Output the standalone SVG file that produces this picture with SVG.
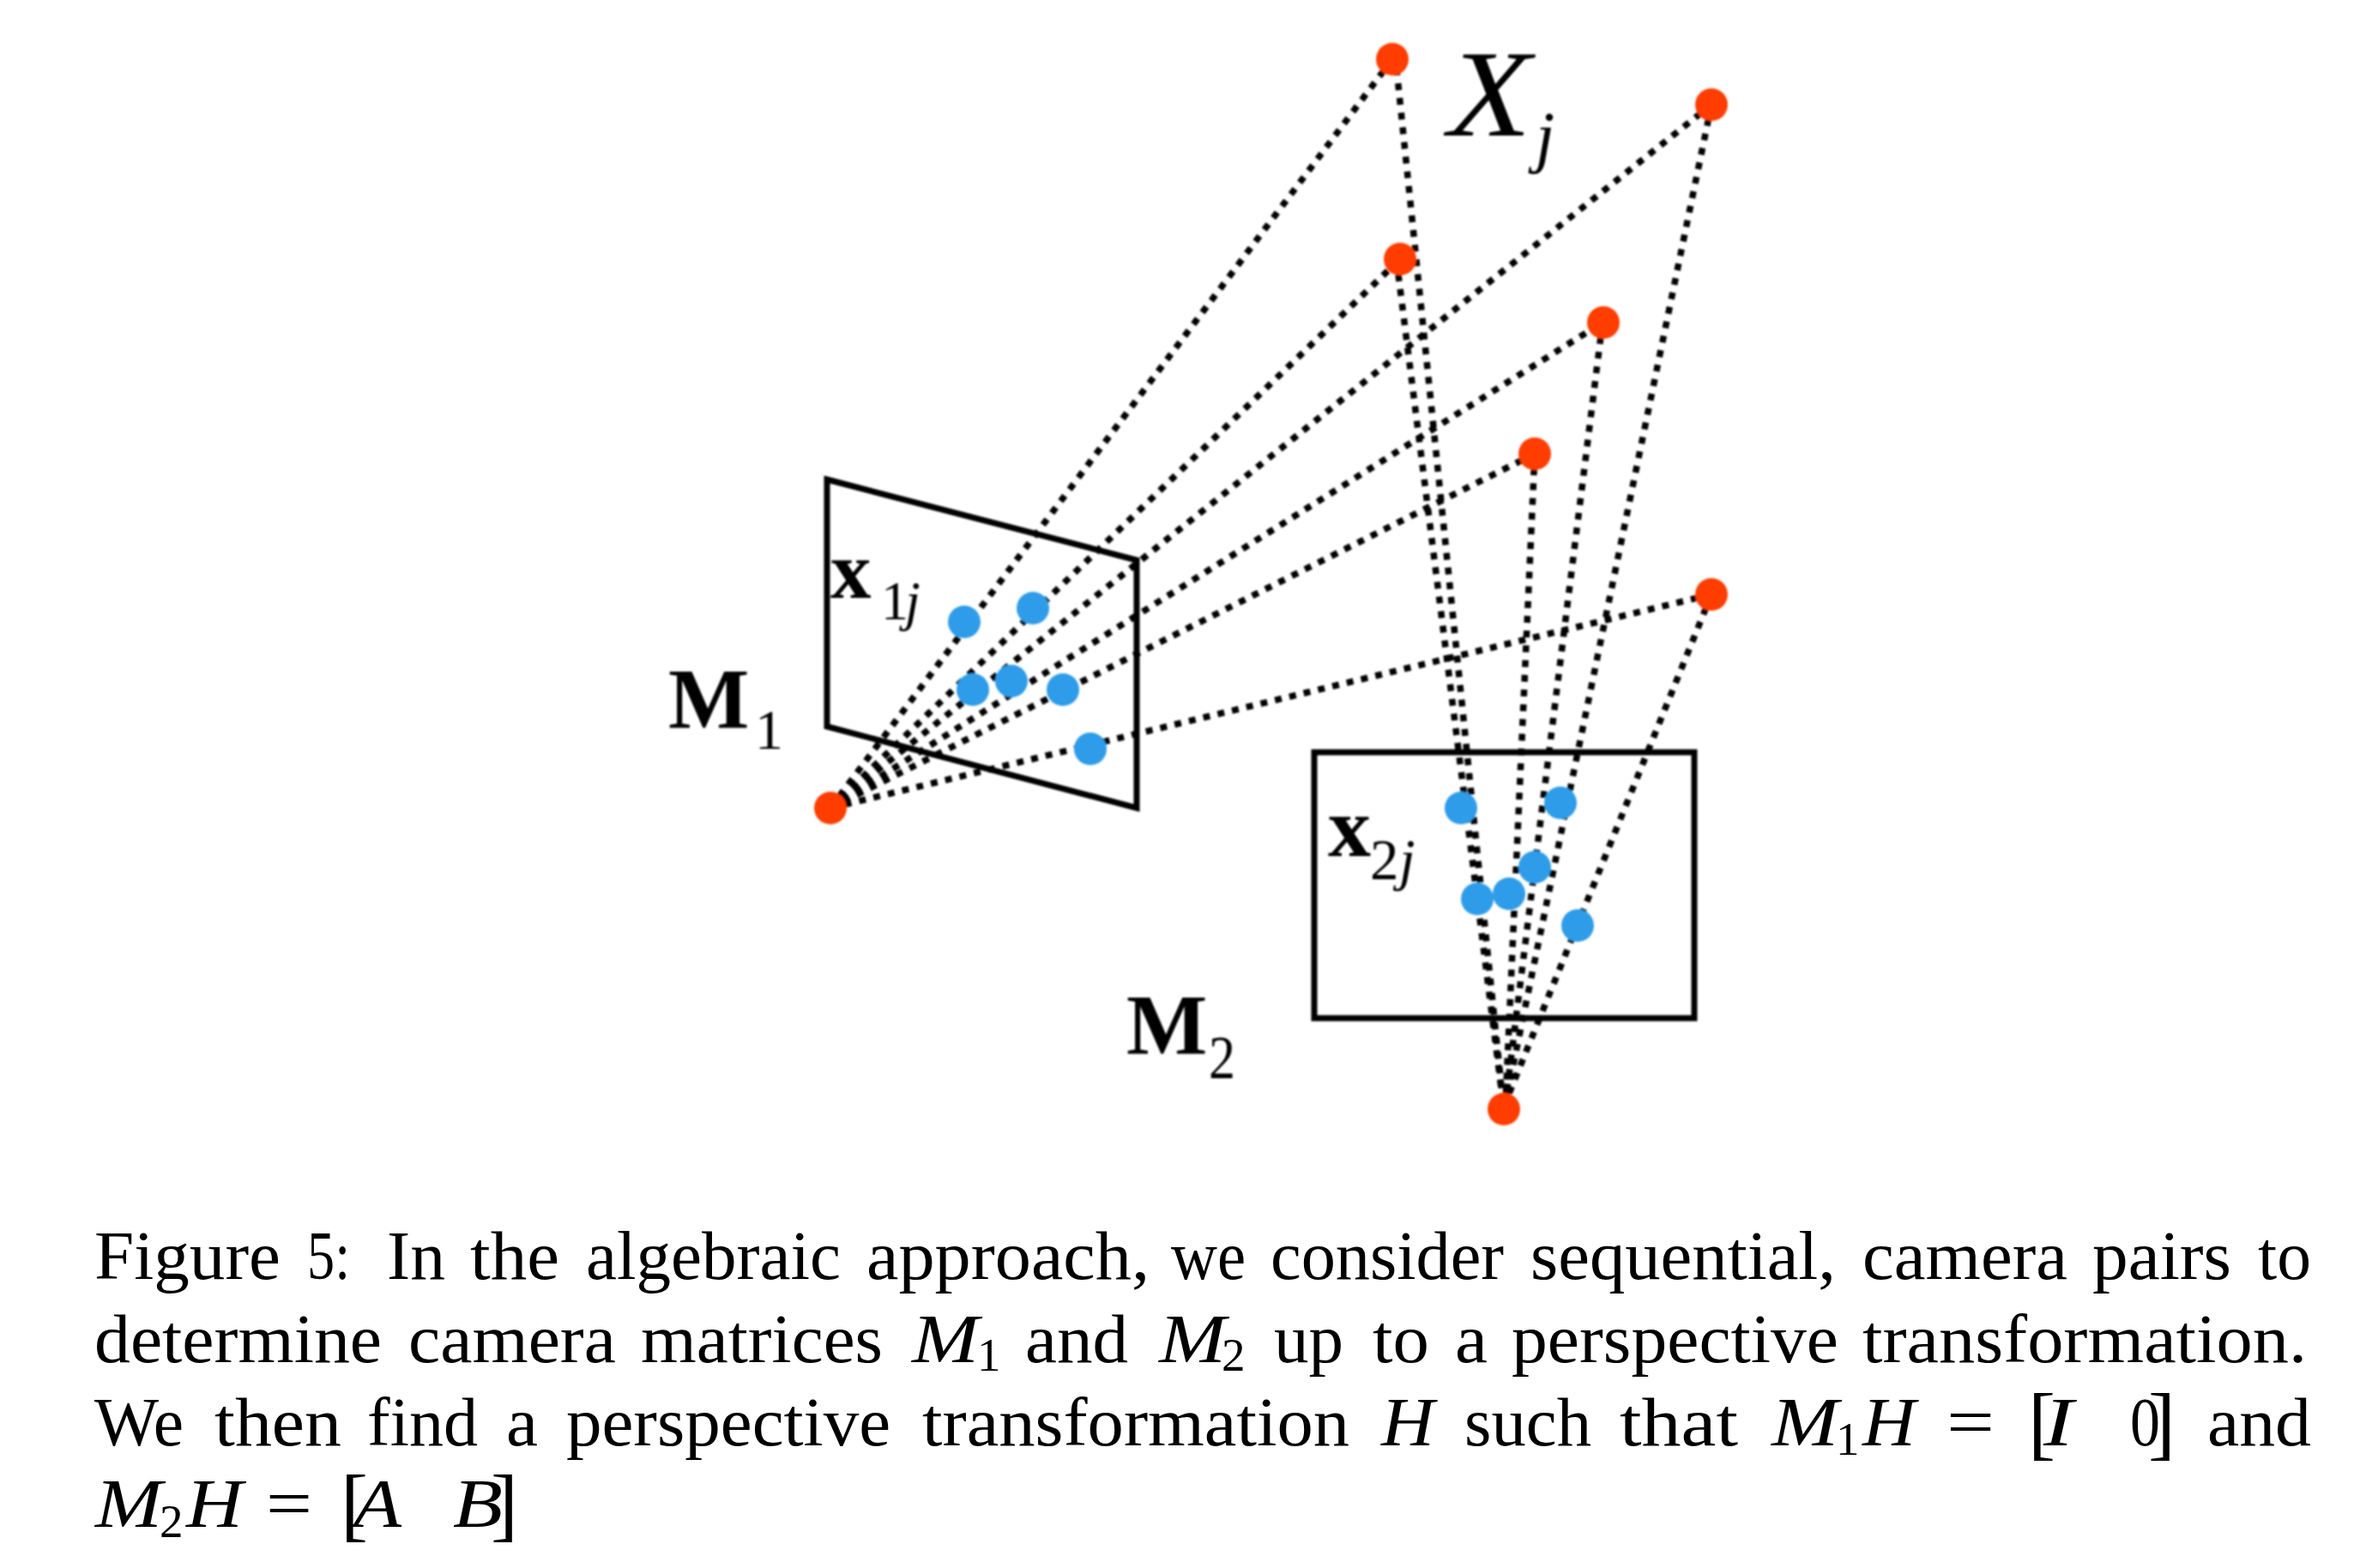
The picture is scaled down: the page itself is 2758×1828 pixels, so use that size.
<svg xmlns="http://www.w3.org/2000/svg" width="2758" height="1828" viewBox="0 0 2758 1828">
<style>
text{font-family:"Liberation Serif","Times New Roman",serif;fill:#000}
.cap{font-size:80px}
.i{font-style:italic}
.b{font-weight:bold}
.sub{font-size:55px}
.ray{stroke:#000;stroke-width:7.5;stroke-dasharray:8 9.2;fill:none}
.plane{fill:none;stroke:#000;stroke-width:7;stroke-linejoin:miter}
.pt{fill:#FF3D00}
.im{fill:#2D9CE8}
</style>
<defs>
<filter id="soft" filterUnits="userSpaceOnUse" x="0" y="0" width="2758" height="1400"><feGaussianBlur stdDeviation="1"/></filter>
</defs>
<rect width="2758" height="1828" fill="#fff"/>
<g filter="url(#soft)">
<g id="camera-plane-1"><polygon class="plane" points="964,559 1325,653 1325,942 964,847"/></g>
<g id="camera-plane-2"><rect class="plane" x="1532" y="877" width="443" height="310"/></g>
<g id="connectors">
<line class="ray" x1="968" y1="942" x2="1623" y2="69"/>
<line class="ray" x1="968" y1="942" x2="1632" y2="302"/>
<line class="ray" x1="968" y1="942" x2="1995" y2="122"/>
<line class="ray" x1="968" y1="942" x2="1868" y2="376"/>
<line class="ray" x1="968" y1="942" x2="1789" y2="529"/>
<line class="ray" x1="968" y1="942" x2="1995" y2="693"/>
<line class="ray" x1="1628" y1="80" x2="1752" y2="1285"/>
<line class="ray" x1="1630" y1="320" x2="1752" y2="1285"/>
<line class="ray" x1="1995" y1="122" x2="1755" y2="1285"/>
<line class="ray" x1="1868" y1="376" x2="1755" y2="1285"/>
<line class="ray" x1="1789" y1="529" x2="1755" y2="1285"/>
<line class="ray" x1="1995" y1="693" x2="1755" y2="1285"/>
</g>
<g id="world-point-1"><circle class="pt" cx="1623" cy="69" r="19"/></g>
<g id="world-point-2"><circle class="pt" cx="1995" cy="122" r="19"/></g>
<g id="world-point-3"><circle class="pt" cx="1632" cy="302" r="19"/></g>
<g id="world-point-4"><circle class="pt" cx="1869" cy="376" r="19"/></g>
<g id="world-point-5"><circle class="pt" cx="1789" cy="529" r="19"/></g>
<g id="world-point-6"><circle class="pt" cx="1995" cy="693" r="19"/></g>
<g id="camera-center-1"><circle class="pt" cx="968" cy="942" r="19"/></g>
<g id="camera-center-2"><circle class="pt" cx="1753" cy="1293" r="19"/></g>
<g id="image1-point-1"><circle class="im" cx="1124" cy="725" r="19"/></g>
<g id="image1-point-2"><circle class="im" cx="1204" cy="709" r="19"/></g>
<g id="image1-point-3"><circle class="im" cx="1134" cy="804" r="19"/></g>
<g id="image1-point-4"><circle class="im" cx="1179" cy="794" r="19"/></g>
<g id="image1-point-5"><circle class="im" cx="1239" cy="804" r="19"/></g>
<g id="image1-point-6"><circle class="im" cx="1271" cy="873" r="19"/></g>
<g id="image2-point-1"><circle class="im" cx="1703" cy="942" r="19"/></g>
<g id="image2-point-2"><circle class="im" cx="1819" cy="936" r="19"/></g>
<g id="image2-point-3"><circle class="im" cx="1789" cy="1011" r="19"/></g>
<g id="image2-point-4"><circle class="im" cx="1759" cy="1042" r="19"/></g>
<g id="image2-point-5"><circle class="im" cx="1722" cy="1048" r="19"/></g>
<g id="image2-point-6"><circle class="im" cx="1839" cy="1079" r="19"/></g>
<g id="label-Xj"><text class="i" x="1688" y="158" font-size="144" textLength="97" lengthAdjust="spacingAndGlyphs">X</text><text class="i" x="1790" y="186" font-size="80">j</text></g>
<g id="label-x1j"><text x="968" y="697"><tspan class="b" font-size="95">x</tspan><tspan x="1027" y="722" font-size="64">1</tspan><tspan class="i" font-size="64" x="1055" y="722">j</tspan></text></g>
<g id="label-x2j"><text x="1548" y="998"><tspan class="b" font-size="100">x</tspan><tspan x="1597" y="1025" font-size="67">2</tspan><tspan class="i" font-size="67" x="1631" y="1025">j</tspan></text></g>
<g id="label-M1"><text x="779" y="848"><tspan class="b" font-size="100">M</tspan><tspan x="880" y="873" font-size="66">1</tspan></text></g>
<g id="label-M2"><text x="1313" y="1228"><tspan class="b" font-size="100">M</tspan><tspan x="1409" y="1257" font-size="72" textLength="31" lengthAdjust="spacingAndGlyphs">2</tspan></text></g>
</g>
<g id="caption" class="cap">
<text class="cap" y="1491"><tspan x="110" textLength="217" lengthAdjust="spacingAndGlyphs">Figure</tspan> <tspan x="358" textLength="50" lengthAdjust="spacingAndGlyphs">5:</tspan> <tspan x="451" textLength="68" lengthAdjust="spacingAndGlyphs">In</tspan> <tspan x="548" textLength="104" lengthAdjust="spacingAndGlyphs">the</tspan> <tspan x="683" textLength="297" lengthAdjust="spacingAndGlyphs">algebraic</tspan> <tspan x="1010" textLength="330" lengthAdjust="spacingAndGlyphs">approach,</tspan> <tspan x="1365" textLength="87" lengthAdjust="spacingAndGlyphs">we</tspan> <tspan x="1481" textLength="272" lengthAdjust="spacingAndGlyphs">consider</tspan> <tspan x="1784" textLength="356" lengthAdjust="spacingAndGlyphs">sequential,</tspan> <tspan x="2171" textLength="239" lengthAdjust="spacingAndGlyphs">camera</tspan> <tspan x="2439" textLength="162" lengthAdjust="spacingAndGlyphs">pairs</tspan> <tspan x="2632" textLength="62" lengthAdjust="spacingAndGlyphs">to</tspan></text>
<text class="cap" y="1588"><tspan x="110" textLength="335" lengthAdjust="spacingAndGlyphs">determine</tspan> <tspan x="476" textLength="242" lengthAdjust="spacingAndGlyphs">camera</tspan> <tspan x="747" textLength="282" lengthAdjust="spacingAndGlyphs">matrices</tspan> <tspan class="i" x="1063" textLength="78" lengthAdjust="spacingAndGlyphs">M</tspan><tspan class="sub" x="1139" y="1598">1</tspan> <tspan x="1195" y="1588" textLength="120" lengthAdjust="spacingAndGlyphs">and</tspan> <tspan class="i" x="1351" textLength="78" lengthAdjust="spacingAndGlyphs">M</tspan><tspan class="sub" x="1424" y="1598">2</tspan> <tspan x="1485" y="1588" textLength="81" lengthAdjust="spacingAndGlyphs">up</tspan> <tspan x="1600" textLength="66" lengthAdjust="spacingAndGlyphs">to</tspan> <tspan x="1696" textLength="38" lengthAdjust="spacingAndGlyphs">a</tspan> <tspan x="1762" textLength="381" lengthAdjust="spacingAndGlyphs">perspective</tspan> <tspan x="2171" textLength="518" lengthAdjust="spacingAndGlyphs">transformation.</tspan></text>
<text class="cap" y="1685"><tspan x="110" textLength="104" lengthAdjust="spacingAndGlyphs">We</tspan> <tspan x="250" textLength="148" lengthAdjust="spacingAndGlyphs">then</tspan> <tspan x="428" textLength="129" lengthAdjust="spacingAndGlyphs">find</tspan> <tspan x="590" textLength="37" lengthAdjust="spacingAndGlyphs">a</tspan> <tspan x="660" textLength="378" lengthAdjust="spacingAndGlyphs">perspective</tspan> <tspan x="1075" textLength="498" lengthAdjust="spacingAndGlyphs">transformation</tspan> <tspan class="i" x="1610" textLength="62" lengthAdjust="spacingAndGlyphs">H</tspan> <tspan x="1707" textLength="148" lengthAdjust="spacingAndGlyphs">such</tspan> <tspan x="1888" textLength="138" lengthAdjust="spacingAndGlyphs">that</tspan> <tspan class="i" x="2065" textLength="78" lengthAdjust="spacingAndGlyphs">M</tspan><tspan class="sub" x="2140" y="1696">1</tspan><tspan class="i" x="2171" y="1685" textLength="62" lengthAdjust="spacingAndGlyphs">H</tspan> <tspan x="2269" textLength="56" lengthAdjust="spacingAndGlyphs">=</tspan> <tspan x="2364" y="1690" font-size="96">[</tspan><tspan class="i" x="2382" y="1685" textLength="35" lengthAdjust="spacingAndGlyphs">I</tspan> <tspan x="2483" textLength="35" lengthAdjust="spacingAndGlyphs">0</tspan><tspan x="2504" y="1690" font-size="96">]</tspan> <tspan x="2573" y="1685" textLength="121" lengthAdjust="spacingAndGlyphs">and</tspan></text>
<text class="cap" y="1780"><tspan class="i" x="111" textLength="78" lengthAdjust="spacingAndGlyphs">M</tspan><tspan class="sub" x="186" y="1792">2</tspan><tspan class="i" x="217" y="1780" textLength="66" lengthAdjust="spacingAndGlyphs">H</tspan> <tspan x="310" textLength="54" lengthAdjust="spacingAndGlyphs">=</tspan> <tspan x="397" y="1785" font-size="96">[</tspan><tspan class="i" x="412" y="1780" textLength="56" lengthAdjust="spacingAndGlyphs">A</tspan> <tspan class="i" x="528" textLength="58" lengthAdjust="spacingAndGlyphs">B</tspan><tspan x="572" y="1785" font-size="96">]</tspan></text>
</g>
</svg>
